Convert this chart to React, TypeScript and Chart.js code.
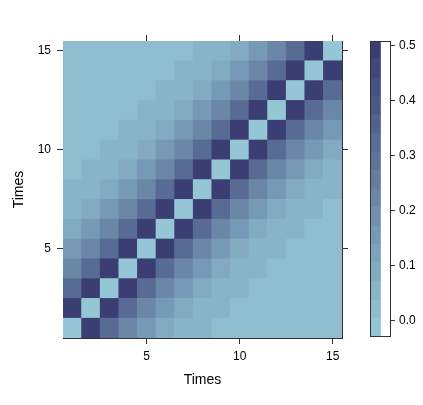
import React, { useEffect, useRef } from "react";
import { Chart, registerables } from "chart.js";

Chart.register(...registerables);
Chart.defaults.font.family = "'Liberation Sans', Arial, sans-serif";

// Grid positions (Times) on both axes
const times = [1, 2, 3, 4, 5, 6, 7, 8, 9, 10, 11, 12, 13, 14, 15];

// Cell values, one row per y (row 0 = Times 1 at the bottom), columns x = Times 1..15
const cellValues: number[][] = [
  [-0.03, 0.508, 0.325, 0.22, 0.155, 0.09, 0.06, 0.045, 0.02, 0.02, 0.02, 0.02, 0.02, 0.02, 0.02],
  [0.508, -0.03, 0.508, 0.325, 0.22, 0.155, 0.09, 0.06, 0.045, 0.02, 0.02, 0.02, 0.02, 0.02, 0.02],
  [0.325, 0.508, -0.03, 0.508, 0.325, 0.22, 0.155, 0.09, 0.06, 0.045, 0.02, 0.02, 0.02, 0.02, 0.02],
  [0.22, 0.325, 0.508, -0.03, 0.508, 0.325, 0.22, 0.155, 0.09, 0.06, 0.045, 0.02, 0.02, 0.02, 0.02],
  [0.155, 0.22, 0.325, 0.508, -0.03, 0.508, 0.325, 0.22, 0.155, 0.09, 0.06, 0.045, 0.02, 0.02, 0.02],
  [0.09, 0.155, 0.22, 0.325, 0.508, -0.03, 0.508, 0.325, 0.22, 0.155, 0.09, 0.06, 0.045, 0.02, 0.02],
  [0.06, 0.09, 0.155, 0.22, 0.325, 0.508, -0.03, 0.508, 0.325, 0.22, 0.155, 0.09, 0.06, 0.045, 0.02],
  [0.045, 0.06, 0.09, 0.155, 0.22, 0.325, 0.508, -0.03, 0.508, 0.325, 0.22, 0.155, 0.09, 0.06, 0.045],
  [0.02, 0.045, 0.06, 0.09, 0.155, 0.22, 0.325, 0.508, -0.03, 0.508, 0.325, 0.22, 0.155, 0.09, 0.06],
  [0.02, 0.02, 0.045, 0.06, 0.09, 0.155, 0.22, 0.325, 0.508, -0.03, 0.508, 0.325, 0.22, 0.155, 0.09],
  [0.02, 0.02, 0.02, 0.045, 0.06, 0.09, 0.155, 0.22, 0.325, 0.508, -0.03, 0.508, 0.325, 0.22, 0.155],
  [0.02, 0.02, 0.02, 0.02, 0.045, 0.06, 0.09, 0.155, 0.22, 0.325, 0.508, -0.03, 0.508, 0.325, 0.22],
  [0.02, 0.02, 0.02, 0.02, 0.02, 0.045, 0.06, 0.09, 0.155, 0.22, 0.325, 0.508, -0.03, 0.508, 0.325],
  [0.02, 0.02, 0.02, 0.02, 0.02, 0.02, 0.045, 0.06, 0.09, 0.155, 0.22, 0.325, 0.508, -0.03, 0.508],
  [0.02, 0.02, 0.02, 0.02, 0.02, 0.02, 0.02, 0.045, 0.06, 0.09, 0.155, 0.22, 0.325, 0.508, -0.03],
];

const axisTicks = [5, 10, 15];
const colorbarTicks = [0, 0.1, 0.2, 0.3, 0.4, 0.5];
const zMin = -0.03;
const zMax = 0.508;
const nBands = 16;

// palette endpoints (style)
const LOW = [148, 198, 214];
const HIGH = [58, 62, 115];

const bandStep = (zMax - zMin) / nBands;
const bandEdges = Array.from({ length: nBands + 1 }, (_, k) => zMin + k * bandStep);

function bandColor(k: number): string {
  const t = k / (nBands - 1);
  const c = LOW.map((l, i) => Math.round(l + (HIGH[i] - l) * t));
  return `rgb(${c[0]},${c[1]},${c[2]})`;
}
function colorFor(v: number): string {
  const k = Math.min(nBands - 1, Math.max(0, Math.floor((v - zMin) / bandStep)));
  return bandColor(k);
}

const W = 423;
const H = 405;
const INK = "#333";
const TEXT = "#000";

const framePlugin = {
  id: "frame",
  afterDatasetsDraw(chart: any) {
    const { ctx, chartArea } = chart;
    ctx.save();
    ctx.strokeStyle = INK;
    ctx.lineWidth = 1;
    ctx.strokeRect(
      Math.round(chartArea.left) + 0.5,
      Math.round(chartArea.top) + 0.5,
      Math.round(chartArea.right - chartArea.left) - 1,
      Math.round(chartArea.bottom - chartArea.top) - 1
    );
    ctx.restore();
  },
};

export default function App() {
  const mainRef = useRef<HTMLCanvasElement>(null);
  const cbRef = useRef<HTMLCanvasElement>(null);

  useEffect(() => {
    if (!mainRef.current || !cbRef.current) return;

    const setTicks = (s: any) => {
      s.ticks = axisTicks.map((v) => ({ value: v }));
    };
    const tickFont = { size: 12 };
    const gridOpts = { drawOnChartArea: false, drawTicks: true, tickLength: 6, color: INK, offset: false };
    const borderOpts = { display: true, color: INK, width: 1 };

    const main = new Chart(mainRef.current, {
      type: "bar",
      data: {
        datasets: times.map((y, r) => ({
          label: `Times ${y}`,
          data: times.map((x) => ({ x, y: [y - 0.5, y + 0.5] })),
          backgroundColor: times.map((_, c) => colorFor(cellValues[r][c])),
          borderWidth: 0,
          grouped: false,
          barPercentage: 1,
          categoryPercentage: 1,
        })),
      } as any,
      options: {
        responsive: false,
        animation: false,
        events: [],
        layout: { padding: { left: 0, top: 35, right: 75, bottom: 0 } },
        plugins: { legend: { display: false }, tooltip: { enabled: false } },
        scales: {
          x: {
            type: "linear",
            position: "bottom",
            min: 0.5,
            max: 15.5,
            offset: false,
            afterBuildTicks: setTicks,
            grid: gridOpts,
            border: borderOpts,
            ticks: { font: tickFont, color: TEXT, padding: 5, maxRotation: 0 },
            title: { display: true, text: "Times", font: { size: 14 }, color: TEXT, padding: { top: 0, bottom: 16 } },
            afterFit: (s: any) => {
              s.height = 67;
            },
          },
          x2: {
            type: "linear",
            position: "top",
            min: 0.5,
            max: 15.5,
            offset: false,
            afterBuildTicks: setTicks,
            grid: gridOpts,
            border: borderOpts,
            ticks: { display: false },
            afterFit: (s: any) => {
              s.height = 6;
            },
          },
          y: {
            type: "linear",
            position: "left",
            min: 0.5,
            max: 15.5,
            offset: false,
            afterBuildTicks: setTicks,
            grid: gridOpts,
            border: borderOpts,
            ticks: { font: tickFont, color: TEXT, padding: 6 },
            title: { display: true, text: "Times", font: { size: 14 }, color: TEXT, padding: { top: 11, bottom: 0 } },
            afterFit: (s: any) => {
              s.width = 63;
            },
          },
          y2: {
            type: "linear",
            position: "right",
            min: 0.5,
            max: 15.5,
            offset: false,
            afterBuildTicks: setTicks,
            grid: gridOpts,
            border: borderOpts,
            ticks: { display: false },
            afterFit: (s: any) => {
              s.width = 6;
            },
          },
        },
      } as any,
    });

    const cb = new Chart(cbRef.current, {
      type: "bar",
      data: {
        labels: ["z"],
        datasets: bandEdges.slice(0, nBands).map((lo, k) => ({
          label: `band ${k}`,
          data: [[lo, bandEdges[k + 1]]],
          backgroundColor: bandColor(k),
          borderWidth: 0,
          grouped: false,
          barPercentage: 1,
          categoryPercentage: 1,
        })),
      } as any,
      options: {
        responsive: false,
        animation: false,
        events: [],
        layout: { padding: { left: 370, top: 41, right: 0, bottom: 68 } },
        plugins: { legend: { display: false }, tooltip: { enabled: false } },
        scales: {
          x: { display: false, offset: false },
          y: {
            type: "linear",
            position: "right",
            min: zMin,
            max: zMax,
            afterBuildTicks: (s: any) => {
              s.ticks = colorbarTicks.map((v) => ({ value: v }));
            },
            grid: { drawOnChartArea: false, drawTicks: true, tickLength: 4, color: INK },
            border: { display: false },
            ticks: {
              font: { size: 12 },
              color: TEXT,
              padding: 4,
              callback: (v: any) => Number(v).toFixed(1),
            },
            afterFit: (s: any) => {
              s.width = W - 391;
            },
          },
        },
      } as any,
      plugins: [framePlugin],
    });

    return () => {
      main.destroy();
      cb.destroy();
    };
  }, []);

  const canvasStyle: React.CSSProperties = { position: "absolute", left: 0, top: 0, width: W, height: H };
  return (
    <div style={{ position: "fixed", left: 0, top: 0, width: W, height: H, background: "#fff" }}>
      <canvas ref={mainRef} width={W} height={H} style={canvasStyle} />
      <canvas ref={cbRef} width={W} height={H} style={canvasStyle} />
    </div>
  );
}
